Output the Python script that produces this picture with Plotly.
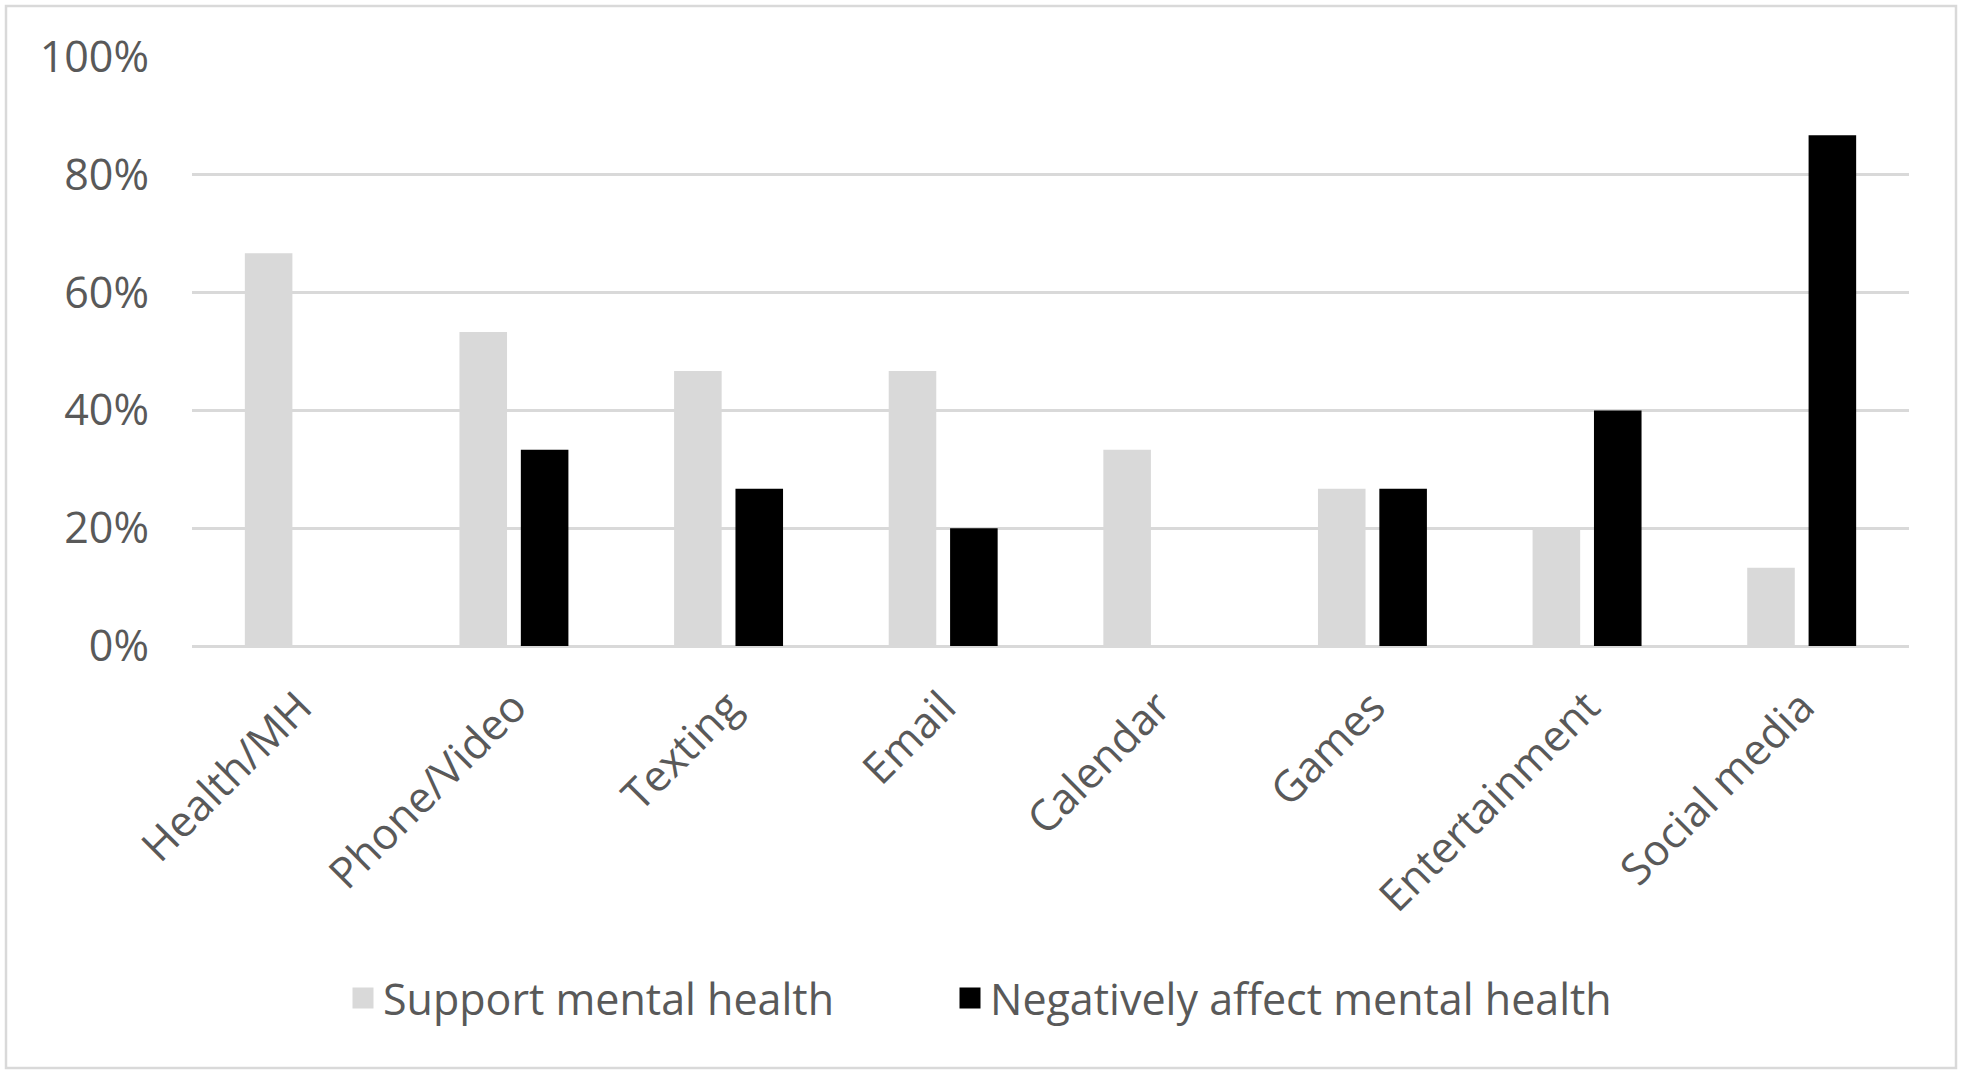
import plotly.graph_objects as go

categories = ["Health/MH", "Phone/Video", "Texting", "Email", "Calendar", "Games", "Entertainment", "Social media"]
support = [0.667, 0.533, 0.467, 0.467, 0.333, 0.267, 0.200, 0.133]
negative = [0.0, 0.333, 0.267, 0.200, 0.0, 0.267, 0.400, 0.867]
series_names = ["Support mental health", "Negatively affect mental health"]
series_colors = ["#d9d9d9", "#000000"]

W, H = 1963, 1076
ML, MR, MT, MB = 192, 54, 57, 430
pw, ph = W - ML - MR, H - MT - MB

def px_x(x):
    return (x - ML) / pw

def px_y(y):
    return (H - MB - y) / ph

FONT = "Open Sans"
TXT = "#595959"
FS = 43

fig = go.Figure()
vals = [support, negative]
legends = ["legend", "legend2"]
for name, v, c in zip(series_names, vals, series_colors):
    fig.add_trace(go.Bar(x=categories, y=v, name=name, marker_color=c, marker_line_width=0,
                         showlegend=False))
for name, c, lg in zip(series_names, series_colors, legends):
    fig.add_trace(go.Scatter(x=[None], y=[None], mode="markers", name=name, legend=lg,
                             marker=dict(symbol="square", size=16, color=c, line=dict(color=c, width=5)),
                             showlegend=True))

leg_common = dict(orientation="h", yanchor="middle", y=px_y(998), xanchor="left",
                  font=dict(family=FONT, size=FS, color=TXT), bgcolor="rgba(0,0,0,0)",
                  itemwidth=30)
fig.update_layout(
    width=W, height=H,
    margin=dict(l=ML, r=MR, t=MT, b=MB, autoexpand=False),
    paper_bgcolor="white", plot_bgcolor="white",
    barmode="group", bargap=0.428, bargroupgap=0.225,
    font=dict(family=FONT, size=FS, color=TXT),
    legend=dict(x=px_x(343), **leg_common),
    legend2=dict(x=px_x(950), **leg_common),
    showlegend=True,
)
fig.update_yaxes(range=[0, 1], dtick=0.2, tickformat=".0%", showgrid=True, gridcolor="#d9d9d9",
                 gridwidth=2.5, zeroline=True, zerolinecolor="#d9d9d9", zerolinewidth=2.5,
                 showline=False, ticks="", ticklabelstandoff=42, fixedrange=True)
fig.update_xaxes(tickangle=-45, showline=False, ticks="", ticklabelstandoff=26, fixedrange=True)

fig.add_shape(type="rect", xref="paper", yref="paper",
              x0=px_x(6), x1=px_x(1956), y0=px_y(1068), y1=px_y(6),
              line=dict(color="#d9d9d9", width=2.5), fillcolor="rgba(0,0,0,0)", layer="below")

fig.write_html("out.html", config={"displayModeBar": False},
               post_script="document.body.style.margin='0';document.body.style.overflow='hidden';")
